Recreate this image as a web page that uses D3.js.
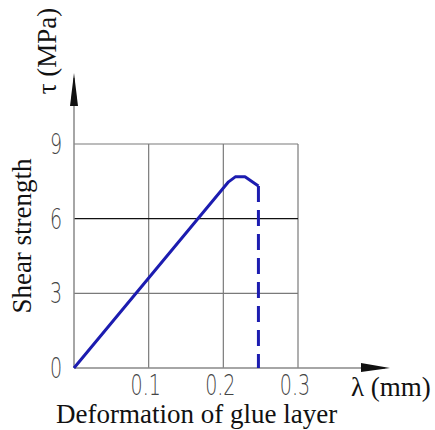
<!DOCTYPE html>
<html>
<head>
<meta charset="utf-8">
<script src="https://d3js.org/d3.v7.min.js"></script>
<style>
  body { margin: 0; background: #fff; }
  .serif { font-family: "Liberation Serif", "Times New Roman", serif; fill: #111; }
  .tick-label { font-family: "DejaVu Sans", sans-serif; fill: #444; font-weight: 300; }
</style>
</head>
<body>
<div id="vis"></div>
<script>
// data
var xTicks = [0.1, 0.2, 0.3];
var xTickLabels = ["0.1", "0.2", "0.3"];
var yTicks = [0, 3, 6, 9];
var yTickLabels = ["0", "3", "6", "9"];
var lambda = [0, 0.207, 0.216, 0.229, 0.247]; // mm
var tau = [0, 7.48, 7.68, 7.68, 7.31];        // MPa
var breakX = [0.247, 0.247];
var breakY = [7.31, 0];

var width = 435,
  height = 430,
  margin = { top: 144, right: 137, bottom: 62, left: 74 };

var x = d3.scaleLinear()
  .domain([0, 0.3])
  .range([margin.left, width - margin.right]);

var y = d3.scaleLinear()
  .domain([0, 9])
  .range([height - margin.bottom, margin.top]);

var svg = d3.select('#vis')
  .append('svg')
  .attr('width', width)
  .attr('height', height);

// grid
svg.selectAll('line.vgrid')
  .data(xTicks)
  .enter()
  .append('line')
  .attr('x1', function(d) { return x(d); })
  .attr('x2', function(d) { return x(d); })
  .attr('y1', y(0))
  .attr('y2', y(9))
  .attr('stroke', '#7a7a7a')
  .attr('stroke-width', 1.2);

svg.selectAll('line.hgrid')
  .data(yTicks.slice(1))
  .enter()
  .append('line')
  .attr('x1', x(0))
  .attr('x2', x(0.3))
  .attr('y1', function(d) { return y(d); })
  .attr('y2', function(d) { return y(d); })
  .attr('stroke', function(d) { return d === 6 ? '#111' : '#7a7a7a'; })
  .attr('stroke-width', 1.2);

// axes with arrows
svg.append('line')
  .attr('x1', x(0)).attr('x2', x(0))
  .attr('y1', y(0)).attr('y2', 78)
  .attr('stroke', '#888').attr('stroke-width', 1.5);
svg.append('path')
  .attr('d', d3.line()([[x(0), 73], [x(0) - 4, 106], [x(0) + 4, 106]]))
  .attr('fill', '#111');

svg.append('line')
  .attr('x1', x(0)).attr('x2', 385)
  .attr('y1', y(0)).attr('y2', y(0))
  .attr('stroke', '#888').attr('stroke-width', 1.5);
svg.append('path')
  .attr('d', d3.line()([[390, y(0)], [361, y(0) - 5], [361, y(0) + 4]]))
  .attr('fill', '#111');

// curve
var line = d3.line()
  .x(function(d) { return x(d[0]); })
  .y(function(d) { return y(d[1]); });

svg.append('path')
  .datum(d3.zip(lambda, tau))
  .attr('d', line)
  .attr('fill', 'none')
  .attr('stroke', '#1c1cb0')
  .attr('stroke-width', 3)
  .attr('stroke-linejoin', 'round');

svg.append('path')
  .datum(d3.zip(breakX, breakY))
  .attr('d', line)
  .attr('fill', 'none')
  .attr('stroke', '#1c1cb0')
  .attr('stroke-width', 3)
  .attr('stroke-dasharray', '16,8');

// tick labels
svg.selectAll('text.xt')
  .data(xTicks)
  .enter()
  .append('text')
  .attr('class', 'tick-label')
  .attr('font-size', 28)
  .attr('text-anchor', 'middle')
  .attr('transform', function(d) { return 'translate(' + (x(d) - 3) + ',' + 395 + ') scale(0.68,1)'; })
  .text(function(d, i) { return xTickLabels[i]; });

svg.selectAll('text.yt')
  .data(yTicks)
  .enter()
  .append('text')
  .attr('class', 'tick-label')
  .attr('font-size', 28)
  .attr('text-anchor', 'end')
  .attr('transform', function(d) { return 'translate(' + 62 + ',' + (y(d) + 10) + ') scale(0.68,1)'; })
  .text(function(d, i) { return yTickLabels[i]; });

// titles
svg.append('text')
  .attr('class', 'serif')
  .attr('font-size', 27)
  .attr('x', 351)
  .attr('y', 396)
  .text('λ (mm)');

svg.append('text')
  .attr('class', 'serif')
  .attr('font-size', 27)
  .attr('x', 56)
  .attr('y', 423)
  .text('Deformation of glue layer');

svg.append('text')
  .attr('class', 'serif')
  .attr('font-size', 27)
  .attr('text-anchor', 'middle')
  .attr('transform', 'translate(31,236) rotate(-90)')
  .text('Shear strength');

svg.append('text')
  .attr('class', 'serif')
  .attr('font-size', 27)
  .attr('text-anchor', 'middle')
  .attr('transform', 'translate(56,51) rotate(-90)')
  .text('τ (MPa)');
</script>
</body>
</html>
